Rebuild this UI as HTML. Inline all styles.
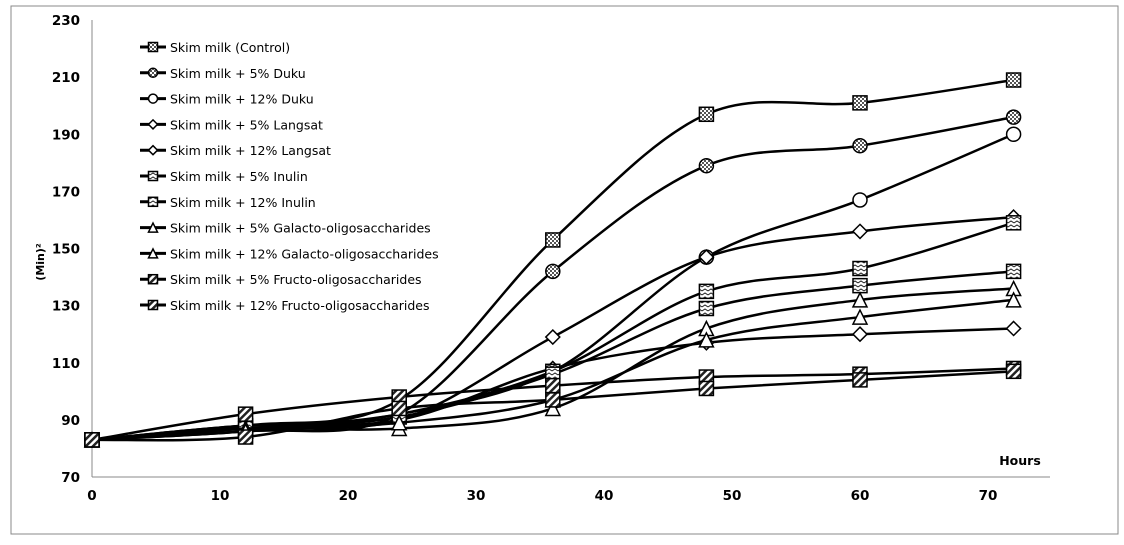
<!DOCTYPE html>
<html><head><meta charset="utf-8"><style>
body{margin:0;background:#fff;width:1124px;height:540px;overflow:hidden}
svg text{font-family:"DejaVu Sans","Liberation Sans",sans-serif}
</style></head><body>
<svg id="chart" width="1124" height="540">
<defs>
<pattern id="p0" width="4" height="4" patternUnits="userSpaceOnUse"><rect width="4" height="4" fill="#fff"/><rect width="2" height="2" fill="#555"/><rect x="2" y="2" width="2" height="2" fill="#555"/></pattern>
<pattern id="p1" width="5" height="5" patternUnits="userSpaceOnUse" patternTransform="rotate(45)"><rect width="5" height="5" fill="#fff"/><rect width="2.5" height="5" fill="#222"/></pattern>
<pattern id="p2" width="6" height="4" patternUnits="userSpaceOnUse"><rect width="6" height="4" fill="#fff"/><path d="M0,3 L3,1 L6,3" stroke="#222" fill="none"/></pattern>
</defs>
<rect x="11" y="6" width="1107" height="528" fill="#fff" stroke="#888"/>
<g id="axes"></g><g id="series"></g><g id="legend"></g>
</svg>
<script>
const hours=[0,12,24,36,48,60,72];
const xTicks=[0,10,20,30,40,50,60,70];
const yTicks=[70,90,110,130,150,170,190,210,230];
const names=["Skim milk (Control)","Skim milk + 5% Duku","Skim milk + 12% Duku","Skim milk + 5% Langsat","Skim milk + 12% Langsat","Skim milk + 5% Inulin","Skim milk + 12% Inulin","Skim milk + 5% Galacto-oligosaccharides","Skim milk + 12% Galacto-oligosaccharides","Skim milk + 5% Fructo-oligosaccharides","Skim milk + 12% Fructo-oligosaccharides"];
const s1=[83,88,97,153,197,201,209];
const s2=[83,86,92,142,179,186,196];
const s3=[83,87,92,107,147,167,190];
const s4=[83,88,90,119,147,156,161];
const s5=[83,88,90,108,117,120,122];
const s6=[83,86,92,107,135,143,159];
const s7=[83,87,91,106,129,137,142];
const s8=[83,87,87,94,122,132,136];
const s9=[83,86,89,97,118,126,132];
const s10=[83,92,98,102,105,106,108];
const s11=[83,84,94,97,101,104,107];
const seriesList=[s1,s2,s3,s4,s5,s6,s7,s8,s9,s10,s11];
const markers=["square","circle","circle","diamond","diamond","square","square","triangle","triangle","square","square"];
const fills=["url(#p0)","url(#p0)","#fff","#fff","#fff","url(#p2)","url(#p2)","#fff","#fff","url(#p1)","url(#p1)"];
const NS="http://www.w3.org/2000/svg";
const X=v=>92+v*12.8, Y=v=>477-(v-70)*2.856;
function mk(tag,attrs,parent){const e=document.createElementNS(NS,tag);for(const k in attrs)e.setAttribute(k,attrs[k]);parent.appendChild(e);return e;}
const axes=document.getElementById('axes');
let a=mk('line',{x1:92,y1:20,x2:92,y2:477,stroke:'#888'},axes);


a=mk('line',{x1:92,y1:477,x2:1050,y2:477,stroke:'#888'},axes);


yTicks.forEach(t=>{const e=mk('text',{x:80,y:Y(t)+5,'text-anchor':'end','font-size':13.5,'font-weight':'bold'},axes);e.textContent=t;

});
xTicks.forEach(t=>{const e=mk('text',{x:X(t),y:500,'text-anchor':'middle','font-size':13.5,'font-weight':'bold'},axes);e.textContent=t;

});
let t=mk('text',{x:0,y:0,transform:'translate(44,262) rotate(-90)','text-anchor':'middle','font-size':11,'font-weight':'bold'},axes);t.textContent='(Min)²';


t=mk('text',{x:1020,y:465,'text-anchor':'middle','font-size':12.5,'font-weight':'bold'},axes);t.textContent='Hours';


function marker(type,x,y,s,g,i){
 let e;
 if(type==='square')e=mk('rect',{x:x-s/2,y:y-s/2,width:s,height:s},g);
 else if(type==='circle')e=mk('circle',{cx:x,cy:y,r:s/2},g);
 else if(type==='diamond')e=mk('polygon',{points:`${x},${y-s/2} ${x+s/2},${y} ${x},${y+s/2} ${x-s/2},${y}`},g);
 else e=mk('polygon',{points:`${x},${y-s/2} ${x+s/2},${y+s/2} ${x-s/2},${y+s/2}`},g);
 e.setAttribute('fill',fills[i]);e.setAttribute('stroke','#000');e.setAttribute('stroke-width',1.5);
 return e;
}
const sg=document.getElementById('series');
seriesList.forEach((d,i)=>{
 const g=mk('g',{},sg);
 
 
 const p=hours.map((h,j)=>[X(h),Y(d[j])]);
 let path=`M${p[0][0]},${p[0][1]}`;
 for(let j=0;j<p.length-1;j++){const p0=p[Math.max(j-1,0)],p1=p[j],p2=p[j+1],p3=p[Math.min(j+2,p.length-1)];
  path+=` C${p1[0]+(p2[0]-p0[0])/6},${p1[1]+(p2[1]-p0[1])/6} ${p2[0]-(p3[0]-p1[0])/6},${p2[1]-(p3[1]-p1[1])/6} ${p2[0]},${p2[1]}`;}
 const l=mk('path',{d:path,fill:'none',stroke:'#000','stroke-width':2.5},g);
 
 
 p.forEach(q=>{mk('line',{x1:q[0],y1:q[1]-7,x2:q[0],y2:q[1]+7,stroke:'#000'},g);
  const m=marker(markers[i],q[0],q[1],14,g,i);
  
  });
});
const lg=document.getElementById('legend');
names.forEach((n,i)=>{
 const y=47+i*25.8;
 const g=mk('g',{},lg);
 
 
 mk('line',{x1:140,y1:y,x2:166,y2:y,stroke:'#000','stroke-width':3},g);
 marker(markers[i],153,y,9,g,i);
 const tx=mk('text',{x:170,y:y+5,'font-size':12.5},g);tx.textContent=n;
});
</script>
</body></html>
